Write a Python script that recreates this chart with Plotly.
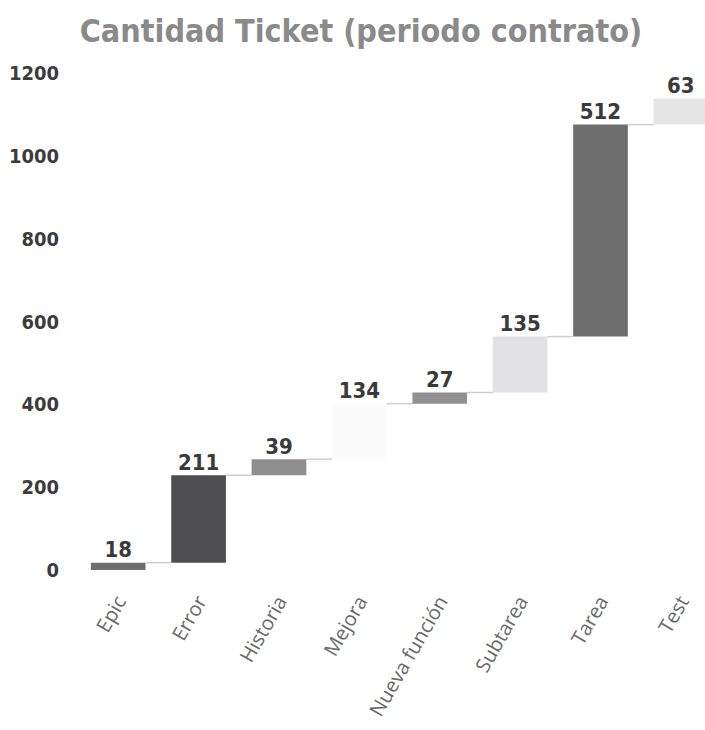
import plotly.graph_objects as go

categories = ["Epic", "Error", "Historia", "Mejora", "Nueva función", "Subtarea", "Tarea", "Test"]
values = [18, 211, 39, 134, 27, 135, 512, 63]
bar_colors = ["#6f6f6f", "#4e4e50", "#8e8e8e", "#fbfbfb", "#919191", "#e2e2e4", "#6e6e6e", "#e5e5e5"]
y_ticks = [0, 200, 400, 600, 800, 1000, 1200]

bar_width = 0.68
xs = list(range(len(categories)))
bases = []
ends = []
running = 0
for v in values:
    bases.append(running)
    running += v
    ends.append(running)

num_font = "DejaVu Sans Condensed, Liberation Sans Narrow, Roboto, sans-serif"

fig = go.Figure()

# connectors
cx, cy = [], []
for i in range(len(values) - 1):
    cx += [xs[i] + bar_width / 2, xs[i + 1] - bar_width / 2, None]
    cy += [ends[i], ends[i], None]
fig.add_trace(go.Scatter(x=cx, y=cy, mode="lines",
                         line=dict(color="#cfcfcf", width=1.5),
                         hoverinfo="skip", showlegend=False))

fig.add_trace(go.Bar(x=xs, y=values, base=bases, width=bar_width,
                     marker=dict(color=bar_colors, line=dict(width=0)),
                     showlegend=False))

fig.add_trace(go.Scatter(x=xs, y=ends, mode="text", text=[str(v) for v in values],
                         textposition="top center",
                         textfont=dict(family=num_font, size=22, color="#3a3a3a", weight="bold"),
                         cliponaxis=False, showlegend=False, hoverinfo="skip"))

fig.update_layout(
    width=705, height=730,
    margin=dict(l=78, r=0, t=60, b=145),
    paper_bgcolor="white", plot_bgcolor="white",
    title=dict(text="Cantidad Ticket (periodo contrato)",
               x=0.512, xanchor="center", y=1 - 31 / 730, yanchor="middle",
               font=dict(family=num_font, size=32, color="#8a8a8a", weight="bold")),
    xaxis=dict(range=[-0.5, 7.3], tickmode="array", tickvals=xs, ticktext=categories,
               tickangle=-60, showgrid=False, zeroline=False, showline=False, ticks="",
               tickfont=dict(family="Open Sans, sans-serif", size=20, color="#6a6a6a")),
    yaxis=dict(range=[-36, 1232], tickmode="array", tickvals=y_ticks,
               showgrid=False, zeroline=False, showline=False, ticks="",
               ticklabelstandoff=18,
               tickfont=dict(family=num_font, size=20, color="#3c3c3c", weight="bold")),
    bargap=0.3,
)

fig.write_html("out.html")
